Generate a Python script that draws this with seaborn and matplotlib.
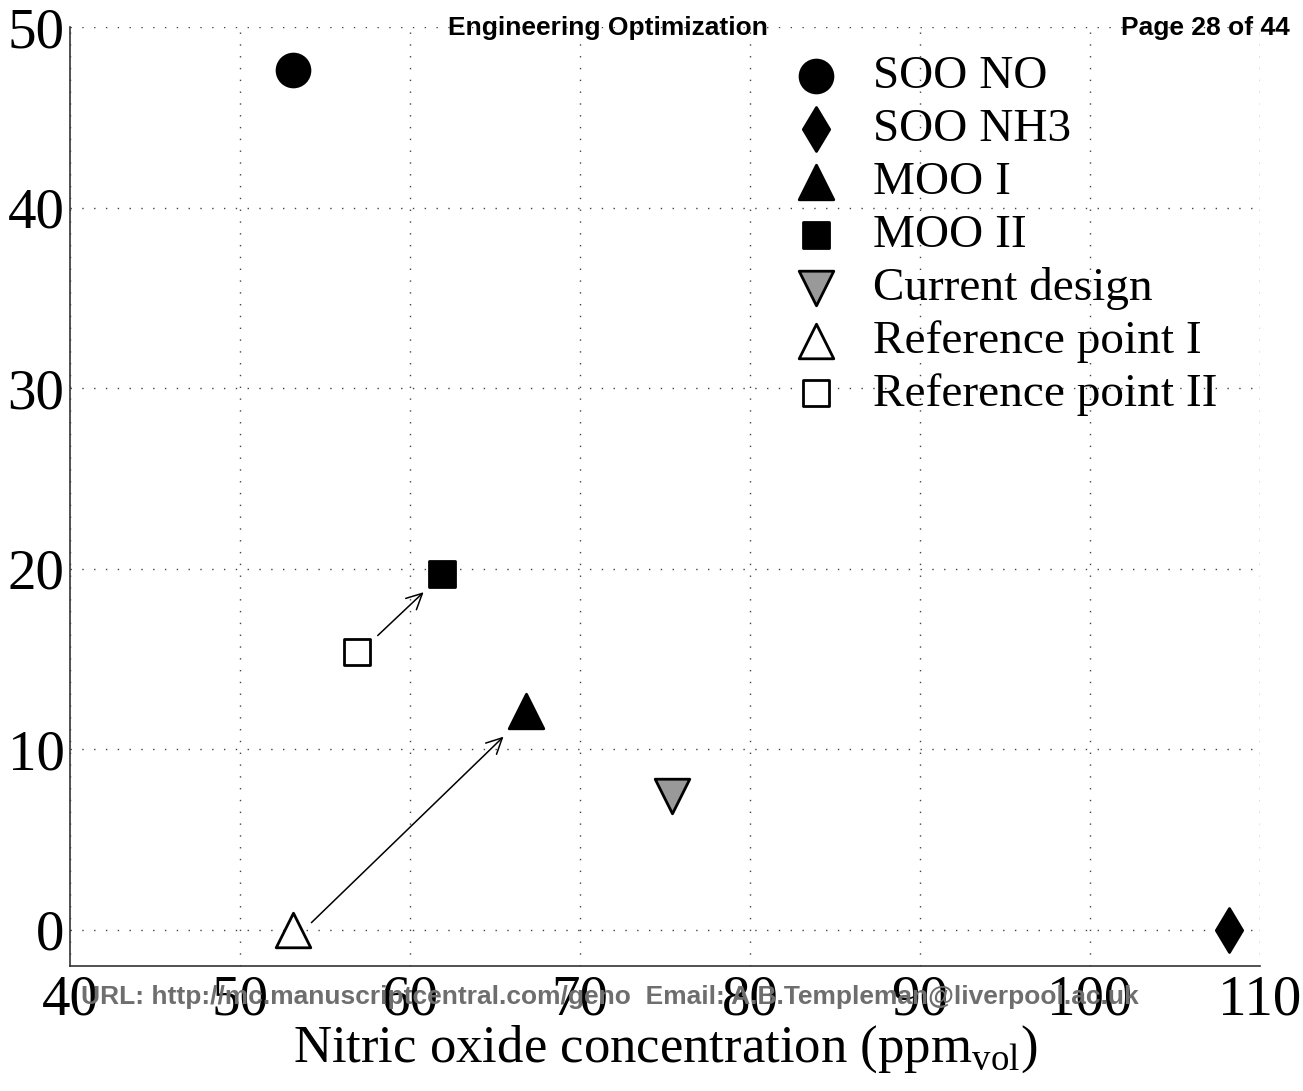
import numpy as np
import matplotlib
matplotlib.use("Agg")
import matplotlib.pyplot as plt
import seaborn as sns

# dane
labels = ["SOO NO", "SOO NH3", "MOO I", "MOO II", "Current design",
          "Reference point I", "Reference point II"]
no_conc = [53.1, 108.2, 66.8, 61.9, 75.4, 53.1, 56.9]
nh3_conc = [47.6, 0.0, 12.1, 19.7, 7.4, 0.0, 15.4]
markers = ["o", "d", "^", "s", "v", "^", "s"]
face_colors = ["black", "black", "black", "black", "#999999", "white", "white"]
marker_area = [560, 500, 620, 330, 620, 620, 330]

# strzałki: punkt odniesienia -> rozwiązanie MOO
arrow_start = [(58.1, 16.3), (54.2, 0.4)]
arrow_end = [(60.8, 18.7), (65.5, 10.7)]

x_ticks = [40, 50, 60, 70, 80, 90, 100, 110]
y_ticks = [0, 10, 20, 30, 40, 50]

sns.set_style("white")
plt.rcParams["font.family"] = ["Liberation Serif", "DejaVu Serif"]
plt.rcParams["mathtext.fontset"] = "custom"
plt.rcParams["mathtext.rm"] = "Liberation Serif"

fig = plt.figure(figsize=(13.03, 10.91), dpi=100)
ax = fig.add_axes([70 / 1303, 125 / 1091, 1190 / 1303, 939 / 1091])

for name, x, y, m, fc, s in zip(labels, no_conc, nh3_conc, markers, face_colors, marker_area):
    sns.scatterplot(x=[x], y=[y], marker=m, color=fc, edgecolor="black",
                    linewidth=2, s=s, label=name, ax=ax, zorder=3)

for (x0, y0), (x1, y1) in zip(arrow_start, arrow_end):
    ax.annotate("", xy=(x1, y1), xytext=(x0, y0),
                arrowprops=dict(arrowstyle="->", lw=1.1, color="black",
                                mutation_scale=28, shrinkA=0, shrinkB=0))

ax.set_xlim(40, 110)
ax.set_ylim(-2, 50)
ax.set_xticks(x_ticks)
ax.set_yticks(y_ticks)
ax.tick_params(direction="in", length=10, width=1, labelsize=41, pad=6,
               colors="black")
ax.tick_params(axis="y", pad=4)
ax.grid(True, linestyle=(0, (1, 7.5)), color="#444444", linewidth=1)
for side in ["top", "right"]:
    ax.spines[side].set_visible(False)
for side in ["left", "bottom"]:
    ax.spines[side].set_color("#333333")
    ax.spines[side].set_linewidth(1.2)

ax.set_xlabel(r"Nitric oxide concentration (ppm$_{\rm vol}$)", fontsize=38,
              labelpad=-2, color="black")
ax.set_ylabel("")

leg = ax.legend(loc="upper left", bbox_to_anchor=(783 / 1303, 1 - 55 / 1091),
                bbox_transform=fig.transFigure, frameon=False, fontsize=34,
                labelspacing=0.21, handletextpad=0.5, handlelength=1.4,
                borderpad=0, borderaxespad=0, labelcolor="black")

fig.text(608 / 1303, 1 - 28 / 1091, "Engineering Optimization",
         family="Liberation Sans", weight="bold", fontsize=19,
         ha="center", va="center", color="black")
fig.text(1290 / 1303, 1 - 28 / 1091, "Page 28 of 44",
         family="Liberation Sans", weight="bold", fontsize=19,
         ha="right", va="center", color="black")
fig.text(610 / 1303, 1 - 997 / 1091,
         "URL: http://mc.manuscriptcentral.com/geno  Email: A.B.Templeman@liverpool.ac.uk",
         family="Liberation Sans", weight="bold", fontsize=19, color="#6e6e6e",
         ha="center", va="center")

fig.savefig("out.png", dpi=100)
plt.close(fig)
